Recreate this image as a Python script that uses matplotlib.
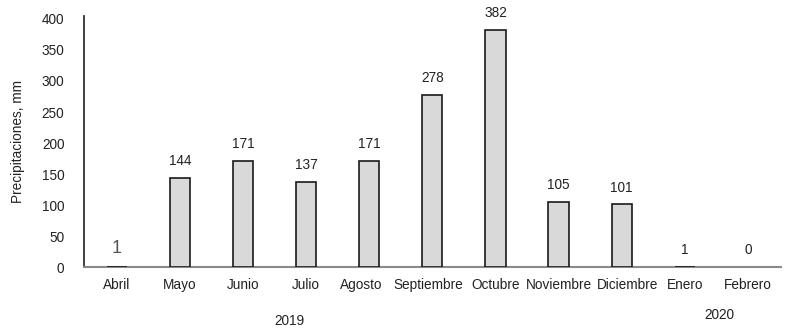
import matplotlib.pyplot as plt
from matplotlib.transforms import ScaledTranslation

plt.rcParams['font.family'] = ['Liberation Sans', 'DejaVu Sans']

months = ['Abril', 'Mayo', 'Junio', 'Julio', 'Agosto', 'Septiembre',
          'Octubre', 'Noviembre', 'Diciembre', 'Enero', 'Febrero']
rain = [1, 144, 171, 137, 171, 278, 382, 105, 101, 1, 0]
yticks = [0, 50, 100, 150, 200, 250, 300, 350, 400]

# small horizontal nudges (px) of some month labels, as in the original
label_shift = {'Agosto': -8, 'Septiembre': -4, 'Diciembre': 6}


def main():
    fig = plt.figure(figsize=(7.91, 3.29), dpi=100)
    ax = fig.add_axes([0.106, 0.188, 0.881, 0.762])

    x = range(len(months))
    bars = ax.bar(x, rain, width=0.32, color='#d9d9d9', edgecolor='#1a1a1a',
                  linewidth=1.2, zorder=3)

    for i, (b, v) in enumerate(zip(bars, rain)):
        if v == 0:
            b.set_linewidth(0)  # empty month: no outline drawn
        if i == 0:
            # the first label is drawn bigger and lighter in the original
            ax.annotate(str(v), (b.get_x() + b.get_width() / 2, v),
                        xytext=(0, 7), textcoords='offset points',
                        ha='center', va='bottom', fontsize=13, color='#555555')
        else:
            ax.annotate(str(v), (b.get_x() + b.get_width() / 2, v),
                        xytext=(0, 7), textcoords='offset points',
                        ha='center', va='bottom', fontsize=9.8, color='#222222')

    ax.set_xlim(-0.52, 10.52)
    ax.set_ylim(0, 404)
    ax.set_yticks(yticks)
    ax.set_xticks(list(x))
    ax.set_xticklabels(months)
    ax.tick_params(axis='both', length=0, labelsize=9.8, colors='#222222')
    ax.tick_params(axis='x', pad=8)
    ax.tick_params(axis='y', pad=14)

    for lab in ax.get_xticklabels():
        dx = label_shift.get(lab.get_text(), 0)
        if dx:
            lab.set_transform(lab.get_transform() +
                              ScaledTranslation(dx / 100, 0, fig.dpi_scale_trans))

    ax.set_ylabel('Precipitaciones, mm', fontsize=9.8, color='#222222', labelpad=12)

    for s in ['top', 'right']:
        ax.spines[s].set_visible(False)
    ax.spines['left'].set_color('#333333')
    ax.spines['left'].set_linewidth(1.3)
    ax.spines['bottom'].set_color('#8a8a8a')
    ax.spines['bottom'].set_linewidth(1.5)

    fig.text(289 / 791, 1 - 321 / 329, '2019', ha='center', va='center',
             fontsize=9.8, color='#222222')
    fig.text(719 / 791, 1 - 315 / 329, '2020', ha='center', va='center',
             fontsize=9.8, color='#222222')

    fig.savefig('out.png', dpi=100)


if __name__ == "__main__":
    main()
